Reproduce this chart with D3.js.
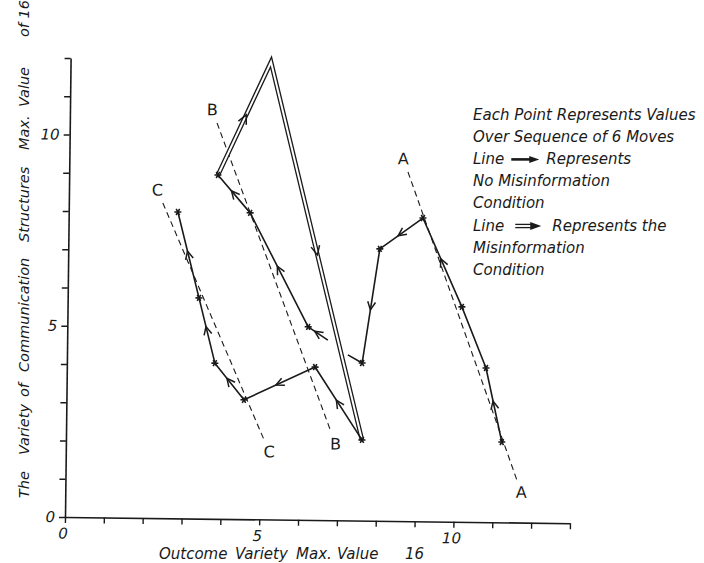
<!DOCTYPE html>
<html>
<head>
<meta charset="utf-8">
<script src="https://cdn.jsdelivr.net/npm/d3@7"></script>
<style>
  body { margin: 0; background: #fff; }
  text { font-family: "DejaVu Sans", sans-serif; font-style: italic; fill: #1a1a1a; }
  .tick text { font-size: 15px; }
  .letter { font-style: normal; font-size: 16px; }
</style>
</head>
<body>
<script>
// axis ticks, only some get a label
var xTicks = d3.range(0, 14);
var yTicks = d3.range(0, 13);
var tickLabels = [0, 5, 10];

// moves in the order they were made: [outcome variety, communication variety]
var pathC = [[7.62, 2.11], [6.39, 4.00], [4.57, 3.12], [3.81, 4.07], [3.38, 5.77], [2.81, 8.01]];
var pathB = [[6.71, 4.71], [6.20, 5.05], [4.67, 8.01], [3.83, 8.99]];
var pathBmis = [[3.83, 8.99], [5.16, 11.96], [7.62, 2.11]];   // misinformation condition
var pathA = [[11.22, 2.10], [10.79, 4.03], [10.15, 5.62], [9.12, 7.93], [8.02, 7.11], [7.60, 4.12], [7.23, 4.33]];
var arrowsA = [1, 0, 1, 1, 1, 0];

// dashed trend lines, labelled at both ends
var trendNames = ['A', 'B', 'C'];
var trendLines = [
  [[8.72, 9.13], [11.62, 1.11]],
  [[3.79, 10.35], [6.82, 2.31]],
  [[2.42, 8.24], [5.10, 2.08]]
];

var legendLines = [
  'Each Point Represents Values',
  'Over Sequence of 6 Moves',
  'Line -> Represents',
  'No Misinformation',
  'Condition',
  'Line => Represents the',
  'Misinformation',
  'Condition'
];

var yTitleWords = ['The', 'Variety', 'of', 'Communication', 'Structures', 'Max.', 'Value', 'of 16'];
var xTitleWords = ['Outcome', 'Variety', 'Max.', 'Value', '16'];

var width = 704, height = 563;
var ink = '#1a1a1a';

var svg = d3.select('body').append('svg')
    .attr('width', width)
    .attr('height', height);

var x = d3.scaleLinear().domain([0, 13]).range([65, 570]);
var y = d3.scaleLinear().domain([0, 12]).range([517, 58]);

// the scanned figure sits a little crooked
var plot = svg.append('g').attr('transform', 'rotate(0.7,' + x(0) + ',' + y(0) + ')');

var fmt = function(d) { return tickLabels.indexOf(d) >= 0 ? d : ''; };

var gx = plot.append('g')
    .attr('transform', 'translate(0,' + y(0) + ')')
    .call(d3.axisBottom(x).tickValues(xTicks).tickSize(6).tickSizeOuter(0).tickPadding(5).tickFormat(fmt));
var gy = plot.append('g')
    .attr('transform', 'translate(' + x(0) + ',0)')
    .call(d3.axisLeft(y).tickValues(yTicks).tickSize(6).tickSizeOuter(0).tickPadding(4).tickFormat(fmt));

[gx, gy].forEach(function(g) {
  g.select('.domain').attr('stroke', ink).attr('stroke-width', 1.6);
  g.selectAll('.tick line').attr('stroke', ink).attr('stroke-width', 1.4);
  g.selectAll('.tick text').attr('fill', ink);
});
gx.selectAll('.tick text').attr('dx', '-0.15em');

var line = d3.line().x(function(d) { return x(d[0]); }).y(function(d) { return y(d[1]); });

// trend lines
trendLines.forEach(function(t, i) {
  plot.append('path')
      .attr('d', line(t))
      .attr('fill', 'none')
      .attr('stroke', ink)
      .attr('stroke-width', 1.1)
      .attr('stroke-dasharray', '6,4');

  var x0 = x(t[0][0]), y0 = y(t[0][1]), x1 = x(t[1][0]), y1 = y(t[1][1]);
  var len = Math.hypot(x1 - x0, y1 - y0), ux = (x1 - x0) / len, uy = (y1 - y0) / len;
  [[x0 - ux * 14, y0 - uy * 14], [x1 + ux * 13, y1 + uy * 13]].forEach(function(p) {
    plot.append('text')
        .attr('class', 'letter')
        .attr('x', p[0])
        .attr('y', p[1])
        .attr('text-anchor', 'middle')
        .attr('dominant-baseline', 'central')
        .text(trendNames[i]);
  });
});

// open V arrow head in the middle of a segment
function arrowHead(g, a, b, size) {
  var ax = x(a[0]), ay = y(a[1]), bx = x(b[0]), by = y(b[1]);
  var ang = Math.atan2(by - ay, bx - ax);
  var len = Math.hypot(bx - ax, by - ay);
  var tx = ax + Math.cos(ang) * (len / 2 + 4), ty = ay + Math.sin(ang) * (len / 2 + 4);
  var spread = 0.45;
  var p1 = [tx - size * Math.cos(ang - spread), ty - size * Math.sin(ang - spread)];
  var p2 = [tx - size * Math.cos(ang + spread), ty - size * Math.sin(ang + spread)];
  g.append('path')
      .attr('d', 'M' + p1 + 'L' + tx + ',' + ty + 'L' + p2)
      .attr('fill', 'none')
      .attr('stroke', ink)
      .attr('stroke-width', 1.5);
}

function asterisk(g, p) {
  var cx = x(p[0]), cy = y(p[1]), r = 3.5;
  [0, 60, 120].forEach(function(a) {
    var dx = r * Math.cos(a * Math.PI / 180), dy = r * Math.sin(a * Math.PI / 180);
    g.append('line')
        .attr('x1', cx - dx).attr('y1', cy - dy)
        .attr('x2', cx + dx).attr('y2', cy + dy)
        .attr('stroke', ink)
        .attr('stroke-width', 1.6);
  });
}

// misinformation condition: double line
plot.append('path')
    .attr('d', line(pathBmis))
    .attr('fill', 'none')
    .attr('stroke', ink)
    .attr('stroke-width', 4.6)
    .attr('stroke-linejoin', 'miter')
    .attr('stroke-miterlimit', 20);
plot.append('path')
    .attr('d', line(pathBmis))
    .attr('fill', 'none')
    .attr('stroke', '#fff')
    .attr('stroke-width', 2)
    .attr('stroke-linejoin', 'miter')
    .attr('stroke-miterlimit', 20);
for (var i = 0; i < pathBmis.length - 1; i++) arrowHead(plot, pathBmis[i], pathBmis[i + 1], 10);

// no misinformation condition: single lines
[pathC, pathB, pathA].forEach(function(p) {
  plot.append('path')
      .attr('d', line(p))
      .attr('fill', 'none')
      .attr('stroke', ink)
      .attr('stroke-width', 1.6)
      .attr('stroke-linejoin', 'round');
});
for (i = 0; i < pathC.length - 1; i++) arrowHead(plot, pathC[i], pathC[i + 1], 9);
for (i = 0; i < pathB.length - 1; i++) arrowHead(plot, pathB[i], pathB[i + 1], 9);
for (i = 0; i < pathA.length - 1; i++) if (arrowsA[i]) arrowHead(plot, pathA[i], pathA[i + 1], 9);

pathC.forEach(function(p) { asterisk(plot, p); });
pathB.slice(1).forEach(function(p) { asterisk(plot, p); });
pathA.slice(0, -1).forEach(function(p) { asterisk(plot, p); });

// legend
var legend = svg.append('g').attr('transform', 'translate(473,119.5)');
legendLines.forEach(function(s, i) {
  var yy = i * 22.2;
  var parts = s.split(/ (->|=>) /);
  var t = legend.append('text').attr('x', 0).attr('y', yy).attr('font-size', 15).text(parts[0]);
  if (parts.length < 3) return;
  var w = t.node().getComputedTextLength();
  var ax = w + 7, ay = yy - 4.5;
  if (parts[1] === '->') {
    legend.append('line').attr('x1', ax).attr('y1', ay).attr('x2', ax + 20).attr('y2', ay)
        .attr('stroke', ink).attr('stroke-width', 2.6);
    legend.append('path').attr('d', 'M' + (ax + 18) + ',' + (ay - 3.5) + 'L' + (ax + 28) + ',' + ay + 'L' + (ax + 18) + ',' + (ay + 3.5) + 'Z')
        .attr('fill', ink);
    legend.append('text').attr('x', ax + 35).attr('y', yy).attr('font-size', 15).text(parts[2]);
  } else {
    ax += 4;
    [-1.6, 1.6].forEach(function(o) {
      legend.append('line').attr('x1', ax).attr('y1', ay + o).attr('x2', ax + 18).attr('y2', ay + o)
          .attr('stroke', ink).attr('stroke-width', 1.3);
    });
    legend.append('path').attr('d', 'M' + (ax + 15) + ',' + (ay - 4) + 'L' + (ax + 26) + ',' + ay + 'L' + (ax + 15) + ',' + (ay + 4) + 'Z')
        .attr('fill', ink);
    legend.append('text').attr('x', ax + 37).attr('y', yy).attr('font-size', 15).text(parts[2]);
  }
});

// axis titles, words spread out like the hand lettering
var yStarts = [498, 455, 397, 372, 242, 150, 107, 37];
var yTitle = svg.append('text').attr('font-size', 14.5).attr('transform', 'translate(29,0) rotate(-90)');
yTitleWords.forEach(function(w, i) {
  yTitle.append('tspan').attr('x', -yStarts[i]).attr('y', 0).text(w);
});

var xStarts = [159, 235, 296, 337, 405];
var xTitle = svg.append('text').attr('font-size', 15).attr('y', 559);
xTitleWords.forEach(function(w, i) {
  xTitle.append('tspan').attr('x', xStarts[i]).text(w);
});
</script>
</body>
</html>
